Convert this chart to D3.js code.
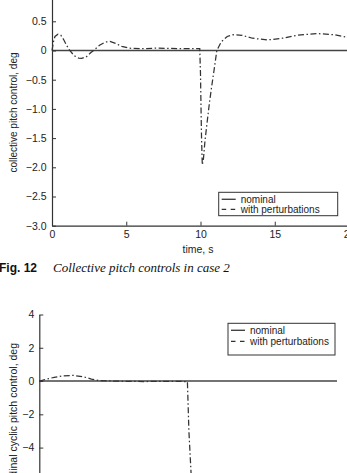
<!DOCTYPE html>
<html>
<head>
<meta charset="utf-8">
<script src="https://cdn.jsdelivr.net/npm/d3@7"></script>
<style>
body { margin: 0; background: #fff; }
svg { display: block; font-family: "Liberation Sans", Arial, sans-serif; }
</style>
</head>
<body>
<svg id="chart" width="347" height="473"></svg>
<script>
// fig 12: collective pitch, case 2
const timeA = [0, 0.1, 0.2, 0.4, 0.6, 0.8, 1.0, 1.2, 1.5, 1.8, 2.0, 2.3, 2.6, 2.8, 3.2, 3.6, 3.9, 4.3, 4.7, 5.2, 6, 7, 8, 9, 9.95,
	10.0, 10.03, 10.07, 10.12, 10.2, 10.3, 10.45, 10.6, 10.75, 10.9, 11.1, 11.4, 11.8, 12.2, 12.8, 13.5, 14.5, 15.5, 16.5, 17.8, 19, 20]
const collectivePert = [0, 0.15, 0.24, 0.28, 0.26, 0.18, 0.08, 0, -0.09, -0.13, -0.135, -0.11, -0.04, 0, 0.09, 0.145, 0.155, 0.12, 0.07, 0.04, 0.03, 0.04, 0.035, 0.03, 0.03,
	-0.4, -0.9, -1.5, -1.96, -1.85, -1.55, -1.22, -0.9, -0.62, -0.36, 0, 0.15, 0.24, 0.27, 0.26, 0.21, 0.18, 0.21, 0.26, 0.29, 0.27, 0.22]
const collectiveTicks = [-3, -2.5, -2, -1.5, -1, -0.5, 0, 0.5]

// fig 13: longitudinal cyclic pitch
const timeB = [0, 0.5, 1, 1.5, 2.3, 3, 3.5, 4.1, 5, 6, 7, 8, 9, 9.95, 10.0, 10.05, 10.2, 10.35, 10.5]
const cyclicPert = [0, 0.12, 0.22, 0.3, 0.34, 0.25, 0.12, 0.02, 0, -0.02, -0.03, -0.02, -0.02, -0.03, -1.5, -3, -5.6, -8, -9.5]
const cyclicTicks = [-8, -6, -4, -2, 0, 2, 4]

const xTicks = [0, 5, 10, 15, 20]
const nominalTime = [0, 20]
const nominalValue = [0, 0]
const legendLabels = ['nominal', 'with perturbations']

const svg = d3.select('#chart')
const axisColor = '#333'
const lineColor = '#333'
const dashDot = '6,2.5,1.5,2.5'

const fmtA = d => d === 0 ? '0' : d3.format('.1f')(d)

function drawPanel(opt) {
	const g = svg.append('g')
	const x = d3.scaleLinear().domain([0, 20]).range(opt.xRange)
	const y = d3.scaleLinear().domain(opt.yDomain).range(opt.yRange)

	const line = d3.line()
		.x(d => x(d[0]))
		.y(d => y(d[1]))

	// nominal
	g.append('path')
		.datum(d3.zip(nominalTime, nominalValue))
		.attr('d', line)
		.attr('fill', 'none')
		.attr('stroke', '#444')
		.attr('stroke-width', 1.6)

	g.append('path')
		.datum(d3.zip(opt.t, opt.v))
		.attr('d', line)
		.attr('fill', 'none')
		.attr('stroke', lineColor)
		.attr('stroke-width', 1.25)
		.attr('stroke-dasharray', dashDot)

	const yAxis = d3.axisLeft(y)
		.tickValues(opt.yTicks)
		.tickFormat(opt.fmt)
		.tickSize(-4)
		.tickSizeOuter(0)
		.tickPadding(opt.yPad)

	g.append('g')
		.attr('transform', `translate(${opt.xRange[0]}, 0)`)
		.call(yAxis)

	if (opt.showX) {
		const xAxis = d3.axisBottom(x)
			.tickValues(xTicks)
			.tickSize(-4)
			.tickSizeOuter(0)
			.tickPadding(5)
		g.append('g')
			.attr('transform', `translate(0, ${opt.yRange[0]})`)
			.call(xAxis)
	}

	g.selectAll('.domain').attr('stroke', axisColor).attr('stroke-width', 1.2)
	g.selectAll('.tick line').attr('stroke', axisColor)
	g.selectAll('.tick text')
		.attr('fill', '#222')
		.style('font-size', '10.5px')
		.style('font-family', '"Liberation Sans", Arial, sans-serif')

	// y label
	g.append('text')
		.attr('transform', `translate(16.5, ${opt.labelY}) rotate(-90)`)
		.attr('text-anchor', opt.labelAnchor)
		.attr('font-size', opt.labelSize)
		.attr('fill', '#222')
		.text(opt.yLabel)

	// legend
	const lg = g.append('g').attr('transform', `translate(${opt.legend[0]}, ${opt.legend[1]})`)
	lg.append('rect')
		.attr('width', opt.legend[2])
		.attr('height', opt.legend[3])
		.attr('fill', '#fff')
		.attr('stroke', axisColor)
		.attr('stroke-width', 1)
	legendLabels.forEach((lab, i) => {
		const yy = opt.legendRow0 + i * opt.legendStep
		lg.append('line')
			.attr('x1', 3).attr('x2', 17)
			.attr('y1', yy - 3.5).attr('y2', yy - 3.5)
			.attr('stroke', i === 0 ? '#444' : lineColor)
			.attr('stroke-width', i === 0 ? 1.4 : 1.2)
			.attr('stroke-dasharray', i === 0 ? null : '4.5,4.5')
		lg.append('text')
			.attr('x', 22)
			.attr('y', yy)
			.attr('font-size', '10px')
			.attr('fill', '#222')
			.text(lab)
	})
}

drawPanel({
	t: timeA, v: collectivePert,
	xRange: [52, 349], yRange: [225.7, -7.9], yDomain: [-3, 1],
	yTicks: collectiveTicks, fmt: fmtA, yPad: 5.5, showX: true,
	yLabel: 'collective pitch control, deg', labelY: 112.5, labelAnchor: 'middle', labelSize: '10px',
	legend: [218.7, 192.3, 119, 23.4], legendRow0: 10.5, legendStep: 10
})

drawPanel({
	t: timeB, v: cyclicPert,
	xRange: [39.3, 337], yRange: [547.4, 314.5], yDomain: [-10, 4],
	yTicks: cyclicTicks, fmt: d3.format('d'), yPad: 5, showX: false,
	yLabel: 'longitudinal cyclic pitch control, deg', labelY: 343, labelAnchor: 'end', labelSize: '10.5px',
	legend: [228, 323.3, 107, 31.7], legendRow0: 10.5, legendStep: 11
})

// axis label and caption for fig 12
svg.append('text')
	.attr('x', 198)
	.attr('y', 253)
	.attr('text-anchor', 'middle')
	.attr('font-size', '10.5px')
	.attr('fill', '#222')
	.text('time, s')

const cap = svg.append('text')
	.attr('x', -1)
	.attr('y', 272)
	.attr('fill', '#111')
cap.append('tspan')
	.attr('font-weight', 'bold')
	.attr('font-size', '12px')
	.text('Fig. 12')
cap.append('tspan')
	.attr('x', 53)
	.attr('font-family', '"Liberation Serif", "Times New Roman", serif')
	.attr('font-style', 'italic')
	.attr('font-size', '13px')
	.text('Collective pitch controls in case 2')
</script>
</body>
</html>
